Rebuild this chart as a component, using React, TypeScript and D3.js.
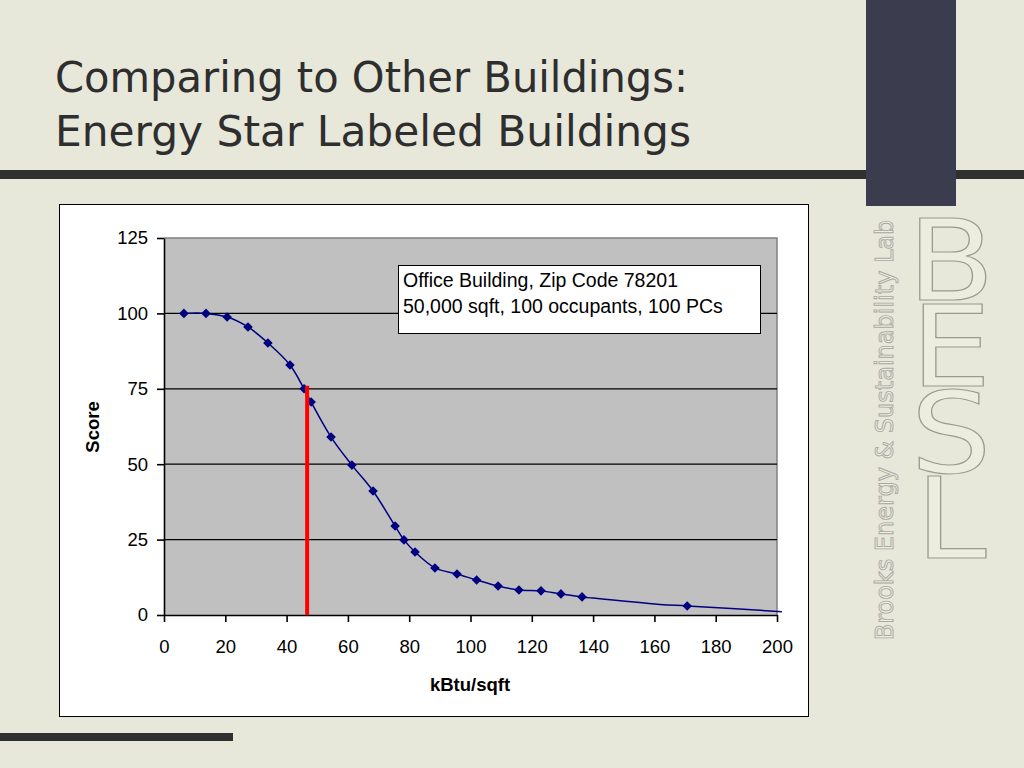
import { useEffect, useRef } from "react";
import * as d3 from "d3";

// energy use intensity (kBtu/sqft) vs Energy Star score
const kbtu = [6.5, 13.7, 20.6, 27.4, 33.9, 41.1, 45.7, 48, 54.5, 61.3, 68.2, 75.4, 78.3, 81.9, 88.4, 95.6, 102, 109, 115.8, 123, 129.5, 136.4, 140, 161.8, 170.7, 201.6];
const score = [100, 100, 98.8, 95.5, 90.2, 82.9, 75, 70.6, 59, 49.7, 41.1, 29.5, 24.9, 20.9, 15.6, 13.6, 11.6, 9.6, 8.3, 8, 7, 6, 5.6, 3.5, 3, 1.1];
const hasMarker = [1, 1, 1, 1, 1, 1, 1, 1, 1, 1, 1, 1, 1, 1, 1, 1, 1, 1, 1, 1, 1, 1, 0, 0, 1, 0];

const xTicks = [0, 20, 40, 60, 80, 100, 120, 140, 160, 180, 200];
const yTicks = [0, 25, 50, 75, 100, 125];
const building = { kbtu: 46.7, score: 76 };
const noteLines = ["Office Building, Zip Code 78201", "50,000 sqft, 100 occupants, 100 PCs"];
const titleLines = ["Comparing to Other Buildings:", "Energy Star Labeled Buildings"];
const logoLetters = ["B", "E", "S", "L"];

const sans = "'Liberation Sans', Arial, sans-serif";

export default function App() {
  const ref = useRef<SVGSVGElement>(null);

  useEffect(() => {
    const svg = d3.select(ref.current);
    svg.selectAll("*").remove();

    // slide background
    svg.append("rect").attr("width", 1024).attr("height", 768).attr("fill", "#e7e7da");

    svg.append("rect").attr("x", 0).attr("y", 170).attr("width", 1024).attr("height", 9).attr("fill", "#303030");
    svg.append("rect").attr("x", 866).attr("y", 0).attr("width", 90).attr("height", 206).attr("fill", "#3b3d4f");
    svg.append("rect").attr("x", 0).attr("y", 733).attr("width", 233).attr("height", 8).attr("fill", "#303030");

    svg
      .append("g")
      .selectAll("text")
      .data(titleLines)
      .join("text")
      .attr("x", 55)
      .attr("y", (d, i) => 92 + i * 54)
      .attr("font-family", "'DejaVu Sans', sans-serif")
      .attr("font-size", 42)
      .attr("textLength", (d, i) => (i === 0 ? 633 : 636))
      .attr("lengthAdjust", "spacingAndGlyphs")
      .attr("fill", "#2e2e2e")
      .text((d) => d);

    // lab logo: big stacked letters in one text element
    const sx = 2.2;
    const sy = 1.95;
    svg
      .append("text")
      .attr("transform", `translate(951,300) scale(${sx},${sy})`)
      .attr("text-anchor", "middle")
      .attr("font-family", "'DejaVu Sans', sans-serif")
      .attr("font-size", 58)
      .attr("fill", "#ececdf")
      .attr("stroke", "#9a9a92")
      .attr("stroke-width", 0.6)
      .selectAll("tspan")
      .data(logoLetters)
      .join("tspan")
      .attr("x", 0)
      .attr("y", (d, i) => (i * 86) / sy)
      .text((d) => d);
    svg
      .append("text")
      .attr("transform", "translate(893,430) rotate(-90)")
      .attr("text-anchor", "middle")
      .attr("font-family", "'DejaVu Sans', sans-serif")
      .attr("font-size", 24)
      .attr("fill", "#eeeee2")
      .attr("stroke", "#a8a8a0")
      .attr("stroke-width", 0.9)
      .text("Brooks Energy & Sustainability Lab");

    // chart frame
    svg.append("rect").attr("x", 59.5).attr("y", 204.5).attr("width", 749).attr("height", 512).attr("fill", "#fff").attr("stroke", "#000");

    const x = d3.scaleLinear().domain([0, 200]).range([164, 777]);
    const y = d3.scaleLinear().domain([0, 125]).range([615, 238]);

    svg.append("rect").attr("x", x(0)).attr("y", y(125)).attr("width", x(200) - x(0)).attr("height", y(0) - y(125)).attr("fill", "#c0c0c0");
    svg
      .append("path")
      .attr("d", `M${x(0)},${y(125)}H${x(200)}V${y(0)}`)
      .attr("fill", "none")
      .attr("stroke", "#808080")
      .attr("stroke-width", 1.5);

    svg
      .append("g")
      .selectAll("line")
      .data(yTicks.filter((t) => t > 0 && t < 125))
      .join("line")
      .attr("x1", x(0))
      .attr("x2", x(200))
      .attr("y1", (d) => y(d))
      .attr("y2", (d) => y(d))
      .attr("stroke", "#000")
      .attr("stroke-width", 1.2);

    const xAxis = svg
      .append("g")
      .attr("transform", `translate(0,${y(0)})`)
      .call(d3.axisBottom(x).tickValues(xTicks).tickSize(7).tickSizeOuter(0).tickPadding(18));
    const yAxis = svg
      .append("g")
      .attr("transform", `translate(${x(0)},0)`)
      .call(d3.axisLeft(y).tickValues(yTicks).tickSize(7).tickSizeOuter(0).tickPadding(9));
    [xAxis, yAxis].forEach((a) => {
      a.selectAll("text").attr("font-family", sans).attr("font-size", 18.5).attr("fill", "#000");
      a.selectAll("line, path").attr("stroke", "#000").attr("stroke-width", 1.6);
    });

    svg
      .append("text")
      .attr("x", 470)
      .attr("y", 691)
      .attr("text-anchor", "middle")
      .attr("font-family", sans)
      .attr("font-weight", "bold")
      .attr("font-size", 18.5)
      .text("kBtu/sqft");
    svg
      .append("text")
      .attr("transform", "translate(99,427) rotate(-90)")
      .attr("text-anchor", "middle")
      .attr("font-family", sans)
      .attr("font-weight", "bold")
      .attr("font-size", 18.5)
      .text("Score");

    const pts = kbtu.map((k, i) => ({ k, s: score[i], m: hasMarker[i] }));
    const line = d3
      .line<{ k: number; s: number }>()
      .x((d) => x(d.k))
      .y((d) => y(d.s))
      .curve(d3.curveCatmullRom.alpha(0.5));
    svg.append("path").datum(pts).attr("d", line).attr("fill", "none").attr("stroke", "#000080").attr("stroke-width", 1.5);

    svg
      .append("g")
      .selectAll("path")
      .data(pts.filter((p) => p.m))
      .join("path")
      .attr("transform", (d) => `translate(${x(d.k)},${y(d.s)}) rotate(45)`)
      .attr("d", d3.symbol(d3.symbolSquare, 46))
      .attr("fill", "#000080");

    svg
      .append("line")
      .attr("x1", x(building.kbtu))
      .attr("x2", x(building.kbtu))
      .attr("y1", y(0))
      .attr("y2", y(building.score))
      .attr("stroke", "#ff0000")
      .attr("stroke-width", 4);

    // annotation box
    svg.append("rect").attr("x", 398.5).attr("y", 265.5).attr("width", 362).attr("height", 68).attr("fill", "#fff").attr("stroke", "#000");
    svg
      .append("g")
      .selectAll("text")
      .data(noteLines)
      .join("text")
      .attr("x", 403)
      .attr("y", (d, i) => 287 + i * 26)
      .attr("font-family", sans)
      .attr("font-size", 19.5)
      .text((d) => d);
  }, []);

  return <svg ref={ref} width={1024} height={768} style={{ position: "absolute", left: 0, top: 0 }} />;
}
